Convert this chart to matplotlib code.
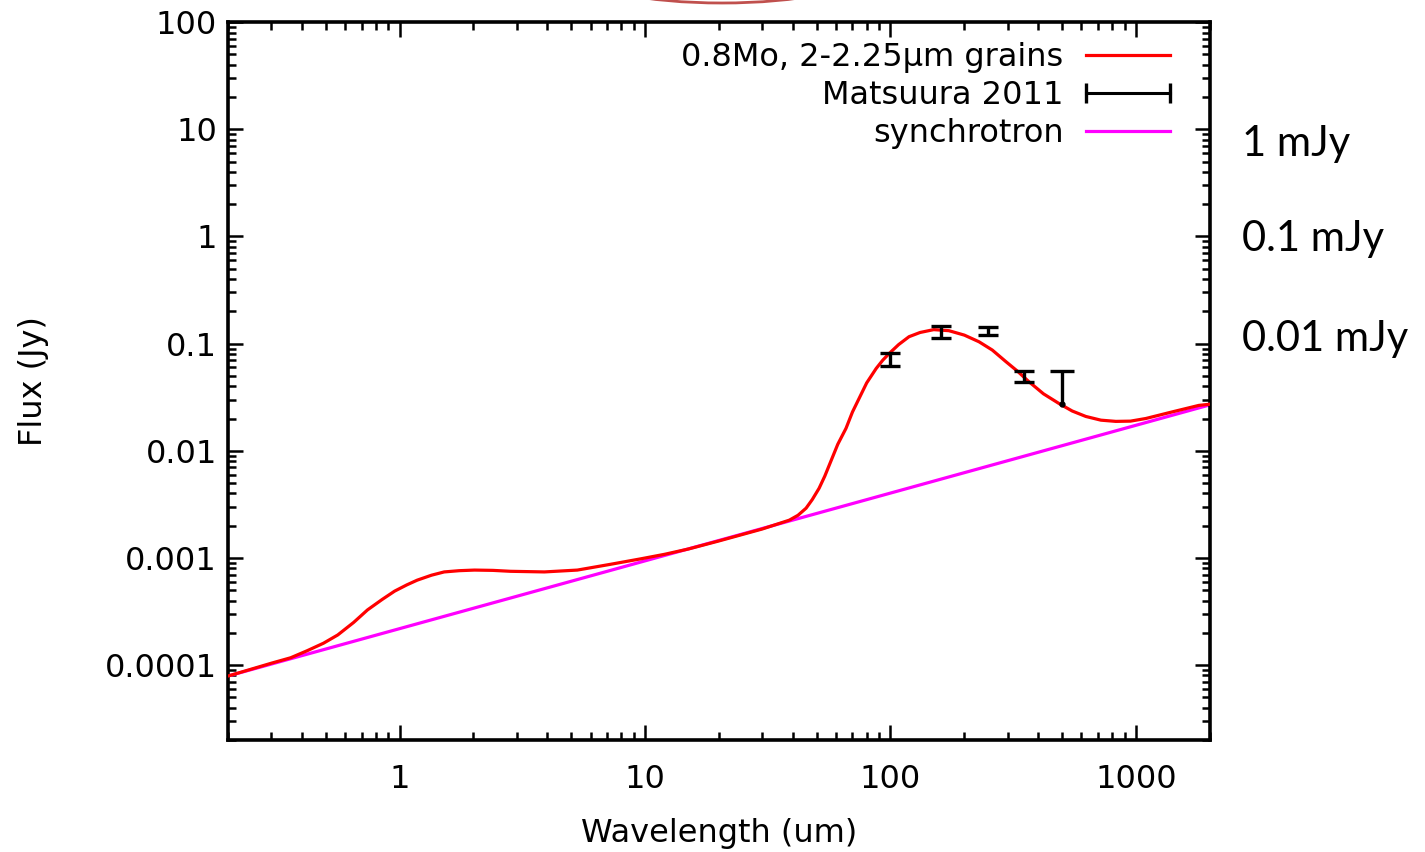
import matplotlib.pyplot as plt
import numpy as np
from matplotlib.ticker import LogLocator, FuncFormatter
from matplotlib.lines import Line2D
from matplotlib.patches import Ellipse

# --- data ---
lam_model = [0.2, 0.3, 0.36, 0.42, 0.49, 0.56, 0.65, 0.74, 0.85, 0.955, 1.07, 1.18, 1.35, 1.52,
             1.75, 2.02, 2.4, 2.83, 3.89, 5.3, 7.2, 9.6, 12, 15, 20, 30, 38.7, 42, 45.3, 48,
             51.2, 54, 57.8, 61, 65.9, 70, 74.5, 80, 87.4, 93, 98.7, 108, 119, 132, 150,
             173, 200, 229.5, 260, 295, 330, 366, 420, 486, 550, 625, 720, 828, 950, 1097,
             1400, 1803, 2000]
flux_model = [7.9e-5, 1.04e-4, 1.17e-4, 1.36e-4, 1.6e-4, 1.91e-4, 2.5e-4, 3.27e-4, 4.1e-4,
              4.9e-4, 5.6e-4, 6.2e-4, 6.9e-4, 7.4e-4, 7.6e-4, 7.7e-4, 7.65e-4, 7.5e-4,
              7.4e-4, 7.7e-4, 8.7e-4, 9.8e-4, 1.08e-3, 1.21e-3, 1.44e-3, 1.86e-3, 2.25e-3,
              2.5e-3, 2.91e-3, 3.5e-3, 4.47e-3, 5.8e-3, 8.5e-3, 1.15e-2, 0.0162, 0.023,
              0.0308, 0.043, 0.0585, 0.07, 0.0807, 0.098, 0.116, 0.127, 0.135, 0.132, 0.12,
              0.104, 0.087, 0.068, 0.055, 0.0442, 0.034, 0.0276, 0.0235, 0.0209, 0.0193,
              0.0188, 0.0189, 0.020, 0.023, 0.0265, 0.0272]

lam_sync = [0.2, 2000]
flux_sync = [7.9e-5, 0.0268]

lam_obs = [100, 160, 250, 350]
flux_obs = [0.0715, 0.129, 0.132, 0.0495]
err_obs = [0.0095, 0.017, 0.011, 0.006]

lam_lim = [500]
flux_lim_lo = [0.0276]
flux_lim_hi = [0.056]

side_labels = ["1 mJy", "0.1 mJy", "0.01 mJy"]

# --- plot ---
fig = plt.figure(figsize=(14.25, 8.52), dpi=100)
ax = fig.add_axes([0.160, 0.1315, 0.689, 0.8425])
ax.set_xscale('log')
ax.set_yscale('log')

ax.plot(lam_model, flux_model, color='#ff0000', lw=2.3, zorder=3)
ax.plot(lam_sync, flux_sync, color='#ff00ff', lw=2.3, zorder=2)
ax.errorbar(lam_obs, flux_obs, yerr=err_obs, fmt='none', ecolor='black',
            elinewidth=2.4, capsize=7, capthick=2.4, zorder=4)
ax.vlines(lam_lim, flux_lim_lo, flux_lim_hi, color='black', lw=2.4, zorder=4)
ax.plot(lam_lim, flux_lim_hi, marker='_', ms=17, mew=2.4, color='black', ls='none', zorder=4)
ax.plot(lam_lim, flux_lim_lo, marker='o', ms=3.5, color='black', ls='none', zorder=4)

ax.set_xlim(0.2, 2000)
ax.set_ylim(2e-5, 100)

fmt = FuncFormatter(lambda v, p: '%g' % v)
for axis in (ax.xaxis, ax.yaxis):
    axis.set_major_locator(LogLocator(base=10, numticks=100))
    axis.set_minor_locator(LogLocator(base=10, subs=np.arange(2, 10), numticks=100))
    axis.set_major_formatter(fmt)
    axis.set_minor_formatter(FuncFormatter(lambda v, p: ''))

ax.tick_params(which='both', direction='in', top=True, right=True, width=1.8, labelsize=23)
ax.tick_params(which='major', length=11)
ax.tick_params(which='minor', length=6)
ax.tick_params(axis='x', pad=17)
ax.tick_params(axis='y', pad=8)
for s in ax.spines.values():
    s.set_linewidth(2.6)

ax.set_xlabel('Wavelength (um)', fontsize=23, labelpad=17)
ax.set_ylabel('Flux (Jy)', fontsize=23, labelpad=40)

handles = [Line2D([], [], color='#ff0000', lw=2.3),
           Line2D([], [], color='black', lw=2.2, marker='|', ms=15, mew=2.4),
           Line2D([], [], color='#ff00ff', lw=2.3)]
labels = ['0.8Mo, 2-2.25µm grains', 'Matsuura 2011', 'synchrotron']
ax.legend(handles, labels, loc='upper right', bbox_to_anchor=(1180 / 1425, 1 - 42 / 852),
          bbox_transform=fig.transFigure, frameon=False, markerfirst=False, numpoints=2,
          fontsize=23, handlelength=3.25, handletextpad=0.4, labelspacing=0.22,
          borderpad=0, borderaxespad=0)

# labels on the right, from the slide
for lab, yy in zip(side_labels, [144, 239, 339]):
    fig.text(1242 / 1425, 1 - yy / 852, lab, fontsize=30, family='Lato', va='center', ha='left')

# bit of a red outline cut off at the top of the slide
fig.patches.append(Ellipse((722, 852 + 27), 280, 60, transform=None, fill=False,
                           edgecolor='#c0504d', lw=2, figure=fig))

fig.savefig('out.png', dpi=100)
